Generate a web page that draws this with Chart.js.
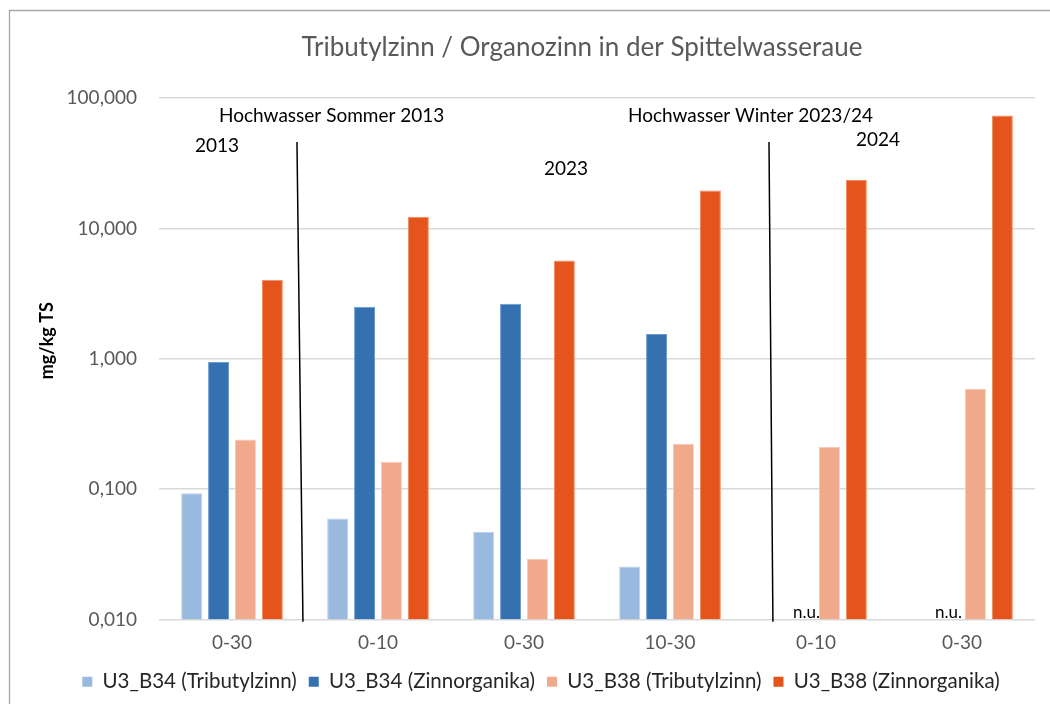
<!DOCTYPE html>
<html>
<head>
<meta charset="utf-8">
<script src="https://cdn.jsdelivr.net/npm/chart.js@4.4.1/dist/chart.umd.min.js"></script>
<style>
  html, body { margin: 0; padding: 0; background: #fff; overflow: hidden; }
  #wrap { position: absolute; left: 0; top: 0; width: 1050px; height: 704px; }
</style>
</head>
<body>
<div id="wrap"><canvas id="c" width="1050" height="704"></canvas></div>
<script>
// Sample depths (cm) per sampling campaign
const categories = ['0-30', '0-10', '0-30', '10-30', '0-10', '0-30'];

const seriesNames = [
  'U3_B34 (Tributylzinn)',
  'U3_B34 (Zinnorganika)',
  'U3_B38 (Tributylzinn)',
  'U3_B38 (Zinnorganika)'
];

// Concentrations in mg/kg TS (null = not analysed, "n.u.")
const b34Tributylzinn = [0.093, 0.0595, 0.047, 0.0255, null, null];
const b34Zinnorganika = [0.946, 2.50, 2.64, 1.55, null, null];
const b38Tributylzinn = [0.24, 0.162, 0.0292, 0.222, 0.21, 0.59];
const b38Zinnorganika = [4.03, 12.3, 5.66, 19.5, 23.5, 73.3];

// Logarithmic axis: decade ticks and their German-formatted labels
const tickValues = [0.01, 0.1, 1, 10, 100];
const tickLabels = ['0,010', '0,100', '1,000', '10,000', '100,000'];

const titleText = 'Tributylzinn / Organozinn in der Spittelwasseraue';
const yAxisTitle = 'mg/kg TS';

// Text notes placed on the scales (x = category index, y = data value)
const notes = [
  { text: 'Hochwasser Sommer 2013', x: -0.089, y: 73 },
  { text: '2013', x: -0.253, y: 43 },
  { text: '2023', x: 2.137, y: 28.8 },
  { text: 'Hochwasser Winter 2023/24', x: 2.712, y: 73 },
  { text: '2024', x: 4.274, y: 48 },
  { text: 'n.u.', x: 3.842, y: 0.0113 },
  { text: 'n.u.', x: 4.815, y: 0.0113 }
];

// Flood event separators between campaigns
const separators = [
  { x0: 0.445, y0: 46, x1: 0.486, y1: 0.0096 },
  { x0: 3.678, y0: 46, x1: 3.705, y1: 0.0096 }
];

const colors = ['#9ab9df', '#3571b0', '#f0a98b', '#e5541c'];
const edges  = ['#bcd2ee', '#6b9bd0', '#f8cbb8', '#f08a5e'];
const FONT = 'Lato, "Open Sans", sans-serif';

const decor = {
  id: 'decor',
  beforeDraw(chart) {
    const ctx = chart.ctx;
    ctx.save();
    ctx.fillStyle = '#fff';
    ctx.fillRect(0, 0, chart.width, chart.height);
    // chart frame
    ctx.strokeStyle = '#a6a6a6';
    ctx.lineWidth = 1.3;
    ctx.beginPath();
    ctx.moveTo(9.5, chart.height + 5);
    ctx.lineTo(9.5, 10.5);
    ctx.lineTo(chart.width + 5, 10.5);
    ctx.stroke();
    ctx.restore();
  },
  afterDraw(chart) {
    const ctx = chart.ctx;
    const xs = chart.scales.x, ys = chart.scales.y;
    const area = chart.chartArea;
    const xAt = (i) => xs.getPixelForValue(0) + i * (xs.getPixelForValue(1) - xs.getPixelForValue(0));
    ctx.save();

    // title
    ctx.fillStyle = '#595959';
    ctx.font = '26px ' + FONT;
    ctx.textAlign = 'center';
    ctx.textBaseline = 'middle';
    ctx.fillText(titleText, (area.left + area.right) / 2 - 15, area.top - 50);

    // y axis title
    ctx.save();
    ctx.translate(47, (area.top + area.bottom) / 2 - 18);
    ctx.rotate(-Math.PI / 2);
    ctx.fillStyle = '#000';
    ctx.font = 'bold 18px ' + FONT;
    ctx.fillText(yAxisTitle, 0, 0);
    ctx.restore();

    // separators
    ctx.strokeStyle = '#000';
    ctx.lineWidth = 1.5;
    separators.forEach(s => {
      ctx.beginPath();
      ctx.moveTo(xAt(s.x0), ys.getPixelForValue(s.y0));
      ctx.lineTo(xAt(s.x1), ys.getPixelForValue(s.y1));
      ctx.stroke();
    });

    // notes
    ctx.fillStyle = '#000';
    ctx.textAlign = 'left';
    ctx.textBaseline = 'middle';
    notes.forEach(n => {
      ctx.font = (n.text === 'n.u.' ? '17px ' : '19px ') + FONT;
      ctx.fillText(n.text, xAt(n.x), ys.getPixelForValue(n.y));
    });
    ctx.restore();
  }
};

const seriesData = [b34Tributylzinn, b34Zinnorganika, b38Tributylzinn, b38Zinnorganika];

new Chart(document.getElementById('c'), {
  type: 'bar',
  data: {
    labels: categories,
    datasets: seriesData.map((d, i) => ({
      label: seriesNames[i],
      data: d,
      backgroundColor: colors[i],
      borderColor: edges[i],
      borderWidth: 1,
      borderSkipped: 'bottom',
      categoryPercentage: 0.737,
      barPercentage: 0.78
    }))
  },
  options: {
    responsive: false,
    animation: false,
    layout: { padding: { left: 47, right: 15, top: 98, bottom: 2 } },
    plugins: {
      title: { display: false },
      tooltip: { enabled: false },
      legend: {
        position: 'bottom',
        labels: {
          boxWidth: 10,
          boxHeight: 10,
          padding: 12,
          color: '#262626',
          font: { family: FONT, size: 20.5 },
          generateLabels(chart) {
            return Chart.defaults.plugins.legend.labels.generateLabels(chart).map(l => {
              l.strokeStyle = l.fillStyle;
              l.lineWidth = 0;
              return l;
            });
          }
        }
      }
    },
    scales: {
      x: {
        grid: { display: false, drawTicks: false },
        border: { display: false },
        ticks: { color: '#595959', font: { family: FONT, size: 19 }, padding: 12 },
        afterFit(s) { s.height = 40; }
      },
      y: {
        type: 'logarithmic',
        min: 0.01,
        max: 100,
        border: { display: false },
        grid: { color: '#d9d9d9', lineWidth: 1.5, drawTicks: false },
        ticks: {
          color: '#595959',
          font: { family: FONT, size: 19 },
          padding: 22,
          callback: (v, i) => tickLabels[i]
        },
        afterBuildTicks(s) { s.ticks = tickValues.map(v => ({ value: v })); },
        afterFit(s) { s.width = 112; }
      }
    }
  },
  plugins: [decor]
});
</script>
</body>
</html>
